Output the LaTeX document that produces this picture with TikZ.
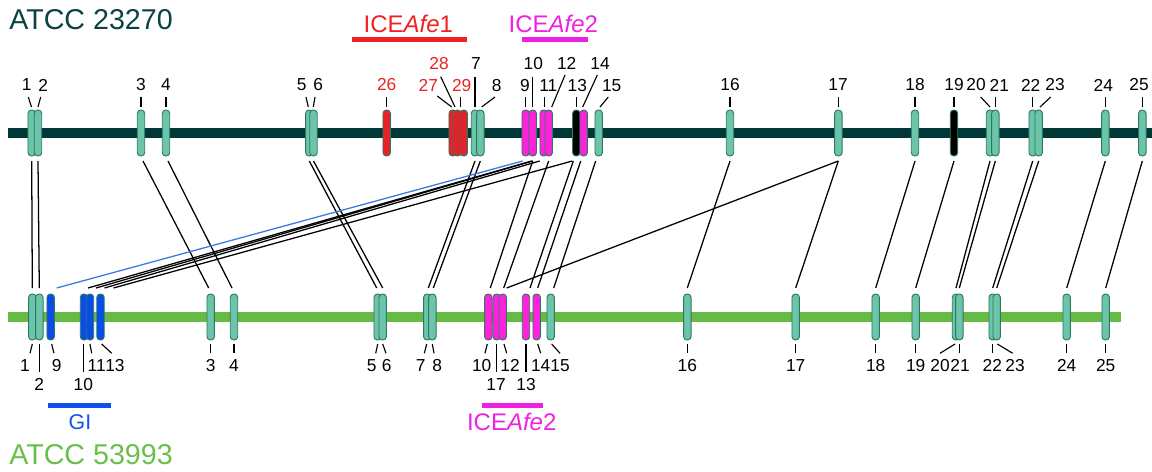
\documentclass[tikz,border=0pt]{standalone}
\usepackage{fontspec}
\setmainfont{Liberation Sans}
\usetikzlibrary{calc}
\definecolor{teal1}{HTML}{6CC4AA}
\definecolor{gedge}{HTML}{2A7A60}
\definecolor{redg}{HTML}{E82028}
\definecolor{magg}{HTML}{FF22DD}
\definecolor{blueg}{HTML}{0A4CE8}
\definecolor{bline}{HTML}{3A78E0}
\definecolor{topchr}{HTML}{003838}
\definecolor{botchr}{HTML}{66BB44}
\definecolor{toptxt}{HTML}{0B4242}
\definecolor{bottxt}{HTML}{6ABF4B}
\definecolor{redtxt}{HTML}{EE2222}
\definecolor{magtxt}{HTML}{F020E0}
\definecolor{bluetxt}{HTML}{1050F0}
\newcommand\conn[5][]{\draw[conn,#1] ($(#2 |- ytop)+(#4,0)$) -- ($(#3 |- ybot)+(#5,0)$);}
\newcommand\tg[4][teal1]{\node[gene,fill=#1] (#2) at (#3,133) {};}
\newcommand\bg[4][teal1]{\node[gene,fill=#1] (#2) at (#3,317) {};}
\begin{document}
\begin{tikzpicture}[x=0.75pt,y=-0.75pt,
 gene/.style={draw=gedge, line width=0.7pt, rounded corners=2.6pt, minimum width=5.6pt, minimum height=34.5pt, inner sep=0pt},
 conn/.style={line width=0.95pt, black},
 tickl/.style={line width=0.85pt, black},
 num/.style={font=\fontsize{13}{15}\selectfont, inner sep=0pt},
 barl/.style={line width=3.75pt},
 big/.style={font=\fontsize{18}{20}\selectfont, inner sep=0pt},
 atcc/.style={font=\fontsize{21.5}{23}\selectfont, inner sep=0pt, anchor=west},
]
\useasboundingbox (0,0) rectangle (1152,471);
\coordinate (ytop) at (0,161);
\coordinate (ybot) at (0,288);

% titles
\node[atcc, text=toptxt] (title1) at (9,20) {ATCC 23270};
\node[atcc, text=bottxt] (title2) at (9,455) {ATCC 53993};

% ICE / GI bars
\draw[barl, redtxt] (351.7,39.3) -- (467.3,39.3);
\node[big, text=redtxt] (ice1) at (408.3,24) {ICE\textit{Afe}1};
\draw[barl, magtxt] (521.7,39.3) -- (588.3,39.3);
\node[big, text=magtxt] (ice2t) at (553.3,24) {ICE\textit{Afe}2};
\draw[barl, magtxt] (481.7,405.7) -- (542.7,405.7);
\node[big, text=magtxt] (ice2b) at (511.7,421.7) {ICE\textit{Afe}2};
\draw[barl, bluetxt] (47.7,405.7) -- (110.7,405.7);
\node[font=\fontsize{16}{18}\selectfont, inner sep=0pt, text=bluetxt] (gi) at (80,422.3) {GI};

% chromosomes
\draw[topchr, line width=7.5pt] (8,133) -- (1152,133);
\draw[botchr, line width=7.5pt] (8,317) -- (1120.7,317);

% top genes
\tg{t1}{31.7}{} \tg{t2}{38}{} \tg{t3}{141}{} \tg{t4}{166}{}
\tg{t5}{309.3}{} \tg{t6}{313.5}{}
\tg[redg]{t26}{386.7}{}
\tg[redg]{t27}{452.7}{} \tg[redg]{t28}{457.5}{} \tg[redg]{t29}{463.7}{}
\tg{t7}{475}{} \tg{t8}{480.3}{}
\tg[magg]{t9}{525.7}{} \tg[magg]{t10}{532.7}{}
\tg[magg]{t11}{543.7}{} \tg[magg]{t12}{548.7}{}
\tg[black]{t13}{576.3}{} \tg[magg]{t14}{583.7}{}
\tg{t15}{598.7}{} \tg{t16}{730}{} \tg{t17}{838.3}{} \tg{t18}{915}{}
\tg[black]{t19}{954}{}
\tg{t20}{990}{} \tg{t21}{995.3}{} \tg{t22}{1032.7}{} \tg{t23}{1038.7}{}
\tg{t24}{1105.3}{} \tg{t25}{1142.3}{}

% bottom genes
\bg{b1}{32.3}{} \bg{b2}{39.3}{}
\bg[blueg]{b9}{50.7}{}
\bg[blueg]{b10g}{84}{} \bg[blueg]{b11g}{90}{} \bg[blueg]{b13g}{100.5}{}
\bg{b3}{210.7}{} \bg{b4}{234}{}
\bg{b5}{377.7}{} \bg{b6}{382.7}{}
\bg{b7}{427.3}{} \bg{b8}{432.3}{}
\bg[magg]{b10}{488.3}{} \bg[magg]{b17m}{496.7}{} \bg[magg]{b12}{502.7}{}
\bg[magg]{b13}{526}{} \bg[magg]{b14}{536.7}{}
\bg{b15}{550.7}{} \bg{b16}{687.3}{} \bg{b17}{795.7}{}
\bg{b18}{875.7}{} \bg{b19}{915.7}{}
\bg{b20}{956}{} \bg{b21}{959.3}{} \bg{b22}{992.7}{} \bg{b23}{996.7}{}
\bg{b24}{1066.7}{} \bg{b25}{1105.7}{}

% connectors
\conn{t1}{b1}{0}{0} \conn{t2}{b2}{0}{0}
\conn{t3}{b3}{2}{-2} \conn{t4}{b4}{2}{-2}
\conn{t5}{b5}{0}{-1} \conn{t6}{b6}{0}{0}
\conn{t7}{b7}{0}{1} \conn{t8}{b8}{0}{1}
\conn[bline]{t9}{b9}{-3}{6}
\conn{t10}{b10g}{-1}{4}
\conn{t10}{b11g}{0}{6}
\conn{t11}{b13g}{-4}{4}
\conn{t13}{b13g}{-4}{13}
\conn{t10}{b10}{0}{2}
\conn{t12}{b12}{0}{1}
\conn{t17}{b17m}{0}{10}
\conn{t13}{b13}{-3}{4}
\conn{t14}{b14}{-3}{1}
\conn{t15}{b15}{-3}{3}
\conn{t16}{b16}{0}{0}
\conn{t17}{b17}{0}{0}
\conn{t18}{b18}{0}{0} \conn{t19}{b19}{0}{0}
\conn{t20}{b20}{0}{0} \conn{t21}{b21}{0}{0}
\conn{t22}{b22}{0}{0} \conn{t23}{b23}{0}{0}
\conn{t24}{b24}{0}{0} \conn{t25}{b25}{0}{0}

% top labels
\node[num] (lt1) at (26.7,85) {1};   \draw[tickl] (28.3,97) -- (31.5,107);
\node[num] (lt2) at (43.3,85) {2};   \draw[tickl] (40.7,97) -- (38,107);
\node[num] (lt3) at (141,85) {3};    \draw[tickl] (141,97) -- (141,107);
\node[num] (lt4) at (166,85) {4};    \draw[tickl] (166,97) -- (166,107);
\node[num] (lt5) at (301.7,85) {5};  \draw[tickl] (306,97) -- (308.3,107);
\node[num] (lt6) at (318.3,85) {6};  \draw[tickl] (315,97) -- (313.3,107);
\node[num, text=redtxt] (lt26) at (386.7,85) {26}; \draw[tickl] (386.7,97) -- (386.7,107);
\node[num, text=redtxt] (lt27) at (428.3,85.7) {27}; \draw[tickl] (437.3,96) -- (451.7,107);
\node[num, text=redtxt] (lt28) at (439,63.3) {28}; \draw[tickl] (440.7,76.7) -- (455,107);
\node[num, text=redtxt] (lt29) at (461.7,85.7) {29}; \draw[tickl] (460.7,97) -- (460.7,107);
\node[num] (lt7) at (476,63.3) {7};   \draw[tickl] (475,76.7) -- (475,107);
\node[num] (lt8) at (496.7,85.7) {8}; \draw[tickl] (495,97) -- (481.7,107);
\node[num] (lt9) at (525,85.7) {9};   \draw[tickl] (525.7,97) -- (525.7,107);
\node[num] (lt10) at (533.3,63.3) {10}; \draw[tickl] (532.7,76.7) -- (532.7,107);
\node[num] (lt11) at (548.3,85.7) {11}; \draw[tickl] (544.7,97) -- (544.7,107);
\node[num] (lt12) at (566.7,63.3) {12}; \draw[tickl] (565,75) -- (551.7,107);
\node[num] (lt13) at (577.3,85.7) {13}; \draw[tickl] (576.3,97) -- (576.3,107);
\node[num] (lt14) at (600,63.3) {14};  \draw[tickl] (597.3,75) -- (582.7,107);
\node[num] (lt15) at (611.7,85.7) {15}; \draw[tickl] (608.3,97) -- (600,107);
\node[num] (lt16) at (730,85) {16};   \draw[tickl] (730,97) -- (730,107);
\node[num] (lt17) at (838,85) {17};   \draw[tickl] (838.3,97) -- (838.3,107);
\node[num] (lt18) at (915,85) {18};   \draw[tickl] (915,97) -- (915,107);
\node[num] (lt19) at (954,85) {19};   \draw[tickl] (954,97) -- (954,107);
\node[num] (lt20) at (976,85) {20};   \draw[tickl] (980.7,97) -- (990,107);
\node[num] (lt21) at (999.3,85) {21}; \draw[tickl] (995.3,97) -- (995.3,107);
\node[num] (lt22) at (1030.7,85) {22}; \draw[tickl] (1032.7,97) -- (1032.7,107);
\node[num] (lt23) at (1055,85) {23};  \draw[tickl] (1050.7,97) -- (1040,107);
\node[num] (lt24) at (1103.3,85) {24}; \draw[tickl] (1105.3,97) -- (1105.3,107);
\node[num] (lt25) at (1139,85) {25};  \draw[tickl] (1142.3,97) -- (1142.3,107);

% bottom labels
\node[num] (lb1) at (25,365.7) {1};    \draw[tickl] (32.3,344) -- (30,353.3);
\node[num] (lb2) at (39.3,384.3) {2};  \draw[tickl] (39.3,344) -- (39.3,372);
\node[num] (lb9) at (56.7,365.7) {9};  \draw[tickl] (51.7,344) -- (54,353.3);
\node[num] (lb10g) at (83.3,384.3) {10}; \draw[tickl] (83.3,344) -- (83.3,372);
\node[num] (lb11g) at (96.7,365.7) {11}; \draw[tickl] (90,344) -- (91.7,353.3);
\node[num] (lb13g) at (115,365.7) {13}; \draw[tickl] (101.7,344) -- (111.7,353.3);
\node[num] (lb3) at (210.7,365.7) {3}; \draw[tickl] (210.7,344) -- (210.7,353.3);
\node[num] (lb4) at (234,365.7) {4};   \draw[tickl] (234,344) -- (234,353.3);
\node[num] (lb5) at (371.7,365.7) {5}; \draw[tickl] (377.7,344) -- (375.7,353.3);
\node[num] (lb6) at (386.7,365.7) {6}; \draw[tickl] (382.7,344) -- (386,353.3);
\node[num] (lb7) at (420.7,365.7) {7}; \draw[tickl] (426.7,344) -- (424.3,353.3);
\node[num] (lb8) at (437.3,365.7) {8}; \draw[tickl] (432.3,344) -- (434,353.3);
\node[num] (lb10) at (481.7,365.7) {10}; \draw[tickl] (487.3,344) -- (485,353.3);
\node[num] (lb17m) at (496,384.3) {17}; \draw[tickl] (496.7,344) -- (496.7,372);
\node[num] (lb12) at (510,365.7) {12}; \draw[tickl] (504,344) -- (506.7,353.3);
\node[num] (lb13) at (526,384.3) {13}; \draw[tickl] (526,344) -- (526,372);
\node[num] (lb14) at (540.7,365.7) {14}; \draw[tickl] (537.7,344) -- (540.7,353.3);
\node[num] (lb15) at (560,365.7) {15}; \draw[tickl] (551.7,344) -- (560,353.3);
\node[num] (lb16) at (687.3,365.7) {16}; \draw[tickl] (687.3,344) -- (687.3,353.3);
\node[num] (lb17) at (795.7,365.7) {17}; \draw[tickl] (795.7,344) -- (795.7,353.3);
\node[num] (lb18) at (875.7,365.7) {18}; \draw[tickl] (875.7,344) -- (875.7,353.3);
\node[num] (lb19) at (915.7,365.7) {19}; \draw[tickl] (915.7,344) -- (915.7,353.3);
\node[num] (lb20) at (940,365.7) {20}; \draw[tickl] (955,344) -- (940,353.3);
\node[num] (lb21) at (960,365.7) {21}; \draw[tickl] (959.3,344) -- (959.3,353.3);
\node[num] (lb22) at (992.3,365.7) {22}; \draw[tickl] (992.7,344) -- (992.7,353.3);
\node[num] (lb23) at (1015,365.7) {23}; \draw[tickl] (997.3,344) -- (1012.7,353.3);
\node[num] (lb24) at (1066.7,365.7) {24}; \draw[tickl] (1066.7,344) -- (1066.7,353.3);
\node[num] (lb25) at (1105.7,365.7) {25}; \draw[tickl] (1105.7,344) -- (1105.7,353.3);
\end{tikzpicture}
\end{document}
